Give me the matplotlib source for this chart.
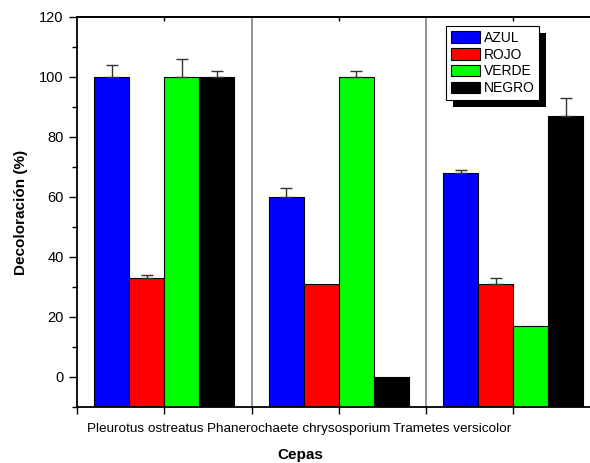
import matplotlib
matplotlib.use("Agg")
import matplotlib.pyplot as plt
import numpy as np
from matplotlib.patches import Rectangle

plt.rcParams['font.family'] = ['Liberation Sans', 'DejaVu Sans']

categories = ["Pleurotus ostreatus", "Phanerochaete chrysosporium", "Trametes versicolor"]
series = ["AZUL", "ROJO", "VERDE", "NEGRO"]
colors = ["#0000ff", "#ff0000", "#00ff00", "#000000"]
azul = [100, 60, 68]
rojo = [33, 31, 31]
verde = [100, 100, 17]
negro = [100, 0, 87]
azul_err = [4, 3, 1]
rojo_err = [1, 0, 2]
verde_err = [6, 2, 0]
negro_err = [2, 0, 6]

values = [azul, rojo, verde, negro]
errors = [azul_err, rojo_err, verde_err, negro_err]

W, H = 590, 463
fig = plt.figure(figsize=(W/100, H/100), dpi=100)
ax_left, ax_right, ax_top, ax_bot = 77, 600.5, 17, 407
ax = fig.add_axes([ax_left/W, 1-ax_bot/H, (ax_right-ax_left)/W, (ax_bot-ax_top)/H])

ymin = -10
x = np.arange(1, len(categories)+1)
w = 0.2
for i, (vals, errs, c, name) in enumerate(zip(values, errors, colors, series)):
    pos = x + (i-1.5)*w
    v = np.array(vals, dtype=float)
    ax.bar(pos, v - ymin, bottom=ymin, width=w, color=c, edgecolor='black',
           linewidth=0.8, label=name, zorder=2)
    e = np.array(errs, dtype=float)
    mask = e > 0
    ax.errorbar(pos[mask], v[mask], yerr=[np.zeros(mask.sum()), e[mask]], fmt='none',
                ecolor='#333333', elinewidth=1, capsize=4, capthick=1, zorder=3)

for sep in [1.5, 2.5]:
    ax.axvline(sep, color='#808080', lw=1.2, zorder=1)

ax.set_xlim(0.5, 3.5)
ax.set_ylim(-10, 120)
ax.set_yticks([0, 20, 40, 60, 80, 100, 120])
ax.set_yticks(np.arange(-10, 121, 10), minor=True)
ax.set_xticks(x)
ax.set_xticklabels([])
ax.set_xticks([0.5, 1.5, 2.5], minor=True)
ax.tick_params(axis='y', which='major', direction='out', length=6, width=1, labelsize=10.5, right=False)
ax.tick_params(axis='y', which='minor', direction='out', length=3.5, width=1, right=False)
ax.tick_params(axis='x', which='both', direction='out', length=5, width=1, top=False)
for side in ['left', 'bottom', 'top']:
    ax.spines[side].set_linewidth(1.3)
ax.spines['right'].set_visible(False)

sec = ax.secondary_xaxis('top')
sec.set_xticks(x)
sec.set_xticklabels([])
sec.tick_params(direction='in', length=3, width=1)
sec.spines['top'].set_linewidth(1.3)

label_px = [145, 299, 453]
for px, lab in zip(label_px, categories):
    xd = 0.5 + (px - ax_left) / 175.0
    ax.text(xd, -0.04, lab, transform=ax.get_xaxis_transform(), ha='center', va='top',
            fontsize=9.7)

fig.text(300/W, 1-455/H, "Cepas", fontsize=11, fontweight='bold', ha='center', va='center')
ax.set_ylabel("Decoloración (%)", fontsize=11, fontweight='bold', labelpad=8)

leg = ax.legend(loc='upper left', bbox_to_anchor=((446-ax_left)/(ax_right-ax_left), (ax_bot-26)/(ax_bot-ax_top)),
                fontsize=10, frameon=True, fancybox=False, edgecolor='black', framealpha=1,
                handlelength=2.1, handleheight=0.9, labelspacing=0.2, borderpad=0.35,
                handletextpad=0.25, borderaxespad=0)
leg.get_frame().set_linewidth(0.8)
leg.set_zorder(5)

fig.canvas.draw()
bb = leg.get_window_extent()
shadow = Rectangle((bb.x0 + 7, bb.y0 - 7), bb.width, bb.height, transform=None,
                   facecolor='black', edgecolor='none', zorder=4)
ax.add_artist(shadow)

fig.savefig("out.png", dpi=100)
